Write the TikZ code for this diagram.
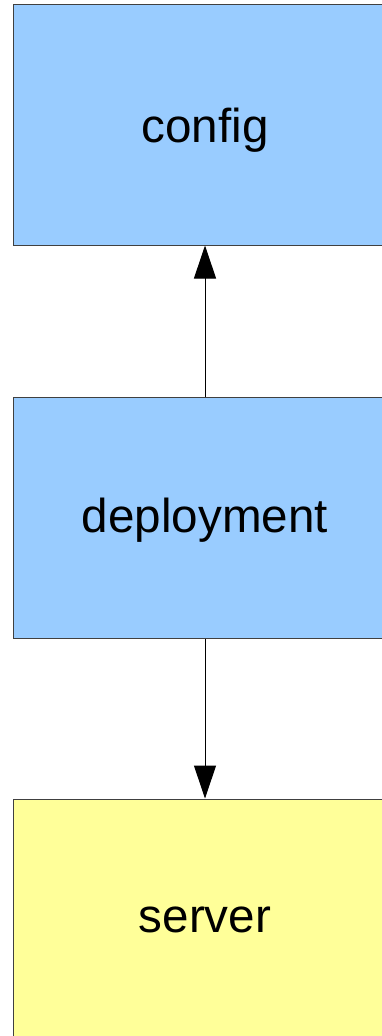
\documentclass[tikz,border=0pt]{standalone}
\usepackage{fontspec}
\setmainfont{Liberation Sans}
\usetikzlibrary{arrows.meta}

\definecolor{boxblue}{HTML}{99CCFF}
\definecolor{boxyellow}{HTML}{FFFF99}

\begin{document}
\begin{tikzpicture}[x=1pt, y=-1pt, >={Triangle[length=33pt,width=22pt]}, line width=1pt,
	block/.style={draw=black!75, line width=1pt, minimum width=384pt, minimum height=241pt,
		inner sep=0pt, text height=35pt, text depth=10pt, font=\fontsize{47.6}{57}\selectfont}]
				\useasboundingbox (0,0) rectangle (382,1036);
				\clip (0,0) rectangle (382,1036);
				\node[block, fill=boxblue, text depth=0pt]   (config)     at (205,124.5) {config};
				\node[block, fill=boxblue, text depth=7pt]   (deployment) at (205,518)   {deployment};
				\node[block, fill=boxyellow]                 (server)     at (205,919.5) {server};
				\draw[->] (deployment) -- (config);
				\draw[->] (deployment) -- (server);
		\end{tikzpicture}
\end{document}
